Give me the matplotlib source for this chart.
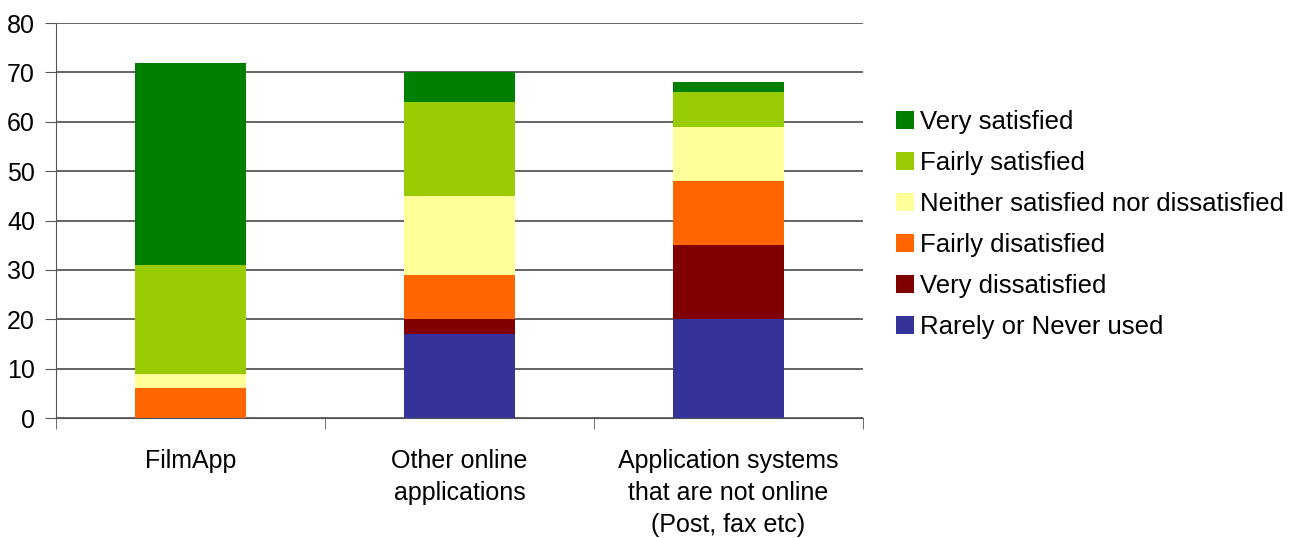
import matplotlib
matplotlib.use("Agg")
import matplotlib.pyplot as plt
import numpy as np

plt.rcParams["font.family"] = ["Liberation Sans", "DejaVu Sans"]

categories = ["FilmApp", "Other online\napplications",
              "Application systems\nthat are not online\n(Post, fax etc)"]

# stacked bottom -> top
series_names = ["Rarely or Never used", "Very dissatisfied", "Fairly disatisfied",
                "Neither satisfied nor dissatisfied", "Fairly satisfied", "Very satisfied"]
rarely = [0, 17, 20]
very_dis = [0, 3, 15]
fairly_dis = [6, 9, 13]
neither = [3, 16, 11]
fairly_sat = [22, 19, 7]
very_sat = [41, 6, 2]
colors = ["#333399", "#800000", "#FF6600", "#FFFF99", "#99CC00", "#008000"]

values = [rarely, very_dis, fairly_dis, neither, fairly_sat, very_sat]

fig = plt.figure(figsize=(13.07, 5.38), dpi=100)
ax = fig.add_axes([0.0428, 0.223, 0.6175, 0.734])

x = np.arange(len(categories))
bottom = np.zeros(len(categories))
handles = []
for name, vals, col in zip(series_names, values, colors):
    b = ax.bar(x, vals, width=0.41, bottom=bottom, color=col, label=name, zorder=3)
    handles.append(b)
    bottom += np.array(vals)

ax.set_xlim(-0.5, 2.5)
ax.set_ylim(0, 80)
ax.set_yticks(range(0, 81, 10))
ax.yaxis.grid(True, color="#3a3a3a", linewidth=1.1, zorder=1)
ax.set_axisbelow(True)

for s in ["top", "right"]:
    ax.spines[s].set_visible(False)
ax.spines["left"].set_color("#555555")
ax.spines["bottom"].set_color("#555555")

ax.set_xticks(x)
ax.set_xticklabels(categories, fontsize=18, linespacing=1.42)
ax.tick_params(axis="x", length=0, pad=22)
ax.set_xticks([-0.5, 0.5, 1.5, 2.5], minor=True)
ax.tick_params(axis="x", which="minor", length=8, color="#555555")
ax.tick_params(axis="y", length=8, color="#555555", labelsize=18, pad=7)

leg = ax.legend(handles[::-1], series_names[::-1], loc="center left",
                bbox_to_anchor=(1.012, 0.49), frameon=False, fontsize=18.5,
                handlelength=0.7, handleheight=0.7, handletextpad=0.25,
                labelspacing=0.66)

fig.savefig("out.png", dpi=100)
